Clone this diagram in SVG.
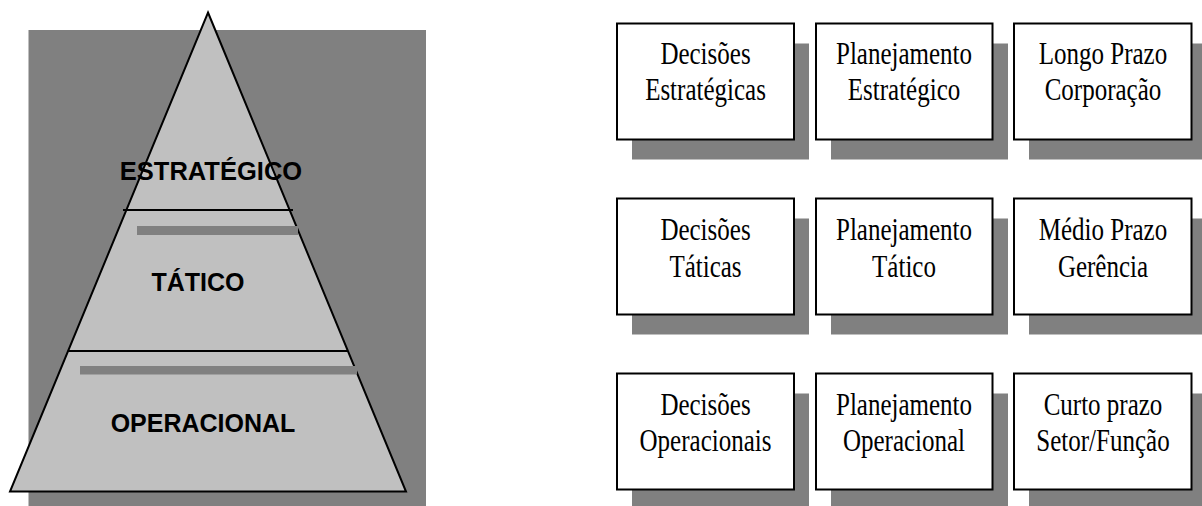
<svg xmlns="http://www.w3.org/2000/svg" width="1202" height="506" viewBox="0 0 1202 506">
  <style>
    .bg { fill: #808080; }
    .tri { fill: #c0c0c0; stroke: #000; stroke-width: 2; stroke-linejoin: miter; }
    .divider { stroke: #000; stroke-width: 2; }
    .band { fill: #808080; }
    .level { font-family: "Liberation Sans", Arial, sans-serif; font-weight: bold; font-size: 25px; fill: #000; text-anchor: middle; }
    .shadow { fill: #808080; }
    .box { fill: #fff; stroke: #000; stroke-width: 2; }
    .label { font-family: "Liberation Serif", "Times New Roman", serif; font-size: 30.5px; fill: #000; text-anchor: middle; }
  </style>

  <rect width="1202" height="506" fill="#fff"/>

  <!-- Pyramid of management levels -->
  <g id="pyramid">
    <rect class="bg" x="28.5" y="30" width="397.5" height="476"/>
    <polygon class="tri" points="208,12.5 406,491.5 10,491.5"/>
    <line class="divider" x1="123" y1="210" x2="293" y2="210"/>
    <line class="divider" x1="68" y1="351" x2="348" y2="351"/>
    <rect class="band" x="137" y="226" width="161" height="9"/>
    <rect class="band" x="80" y="366" width="277" height="8.5"/>
  </g>
  <g id="level-estrategico"><text class="level" x="211" y="180" style="font-size:25.5px">ESTRATÉGICO</text></g>
  <g id="level-tatico"><text class="level" x="198" y="291">TÁTICO</text></g>
  <g id="level-operacional"><text class="level" x="203" y="432">OPERACIONAL</text></g>

  <!-- Boxes: shadows first, then the white boxes -->
  <g id="shadows">
    <rect class="shadow" x="632" y="43.5" width="177" height="116"/>
    <rect class="shadow" x="831" y="43.5" width="177" height="116"/>
    <rect class="shadow" x="1029" y="43.5" width="177" height="116"/>
    <rect class="shadow" x="632" y="218.5" width="177" height="116"/>
    <rect class="shadow" x="831" y="218.5" width="177" height="116"/>
    <rect class="shadow" x="1029" y="218.5" width="177" height="116"/>
    <rect class="shadow" x="632" y="393.5" width="177" height="116"/>
    <rect class="shadow" x="831" y="393.5" width="177" height="116"/>
    <rect class="shadow" x="1029" y="393.5" width="177" height="116"/>
  </g>

  <g id="decisoes-estrategicas">
    <rect class="box" x="617" y="23.5" width="177" height="116"/>
    <text class="label" transform="translate(705.5 0) scale(0.82 1)"><tspan x="0" y="64">Decisões</tspan><tspan x="0" y="100.5">Estratégicas</tspan></text>
  </g>
  <g id="planejamento-estrategico">
    <rect class="box" x="816" y="23.5" width="176.5" height="116"/>
    <text class="label" transform="translate(904 0) scale(0.82 1)"><tspan x="0" y="64">Planejamento</tspan><tspan x="0" y="100.5">Estratégico</tspan></text>
  </g>
  <g id="longo-prazo">
    <rect class="box" x="1014" y="23.5" width="177.5" height="116"/>
    <text class="label" transform="translate(1103 0) scale(0.82 1)"><tspan x="0" y="64">Longo Prazo</tspan><tspan x="0" y="100.5">Corporação</tspan></text>
  </g>

  <g id="decisoes-taticas">
    <rect class="box" x="617" y="198.5" width="177" height="116"/>
    <text class="label" transform="translate(705.5 0) scale(0.82 1)"><tspan x="0" y="240.5">Decisões</tspan><tspan x="0" y="277">Táticas</tspan></text>
  </g>
  <g id="planejamento-tatico">
    <rect class="box" x="816" y="198.5" width="176.5" height="116"/>
    <text class="label" transform="translate(904 0) scale(0.82 1)"><tspan x="0" y="240.5">Planejamento</tspan><tspan x="0" y="277">Tático</tspan></text>
  </g>
  <g id="medio-prazo">
    <rect class="box" x="1014" y="198.5" width="177.5" height="116"/>
    <text class="label" transform="translate(1103 0) scale(0.82 1)"><tspan x="0" y="240.5">Médio Prazo</tspan><tspan x="0" y="277">Gerência</tspan></text>
  </g>

  <g id="decisoes-operacionais">
    <rect class="box" x="617" y="373.5" width="177" height="116"/>
    <text class="label" transform="translate(705.5 0) scale(0.82 1)"><tspan x="0" y="415">Decisões</tspan><tspan x="0" y="451.5">Operacionais</tspan></text>
  </g>
  <g id="planejamento-operacional">
    <rect class="box" x="816" y="373.5" width="176.5" height="116"/>
    <text class="label" transform="translate(904 0) scale(0.82 1)"><tspan x="0" y="415">Planejamento</tspan><tspan x="0" y="451.5">Operacional</tspan></text>
  </g>
  <g id="curto-prazo">
    <rect class="box" x="1014" y="373.5" width="177.5" height="116"/>
    <text class="label" transform="translate(1103 0) scale(0.82 1)"><tspan x="0" y="415">Curto prazo</tspan><tspan x="0" y="451.5">Setor/Função</tspan></text>
  </g>
</svg>
